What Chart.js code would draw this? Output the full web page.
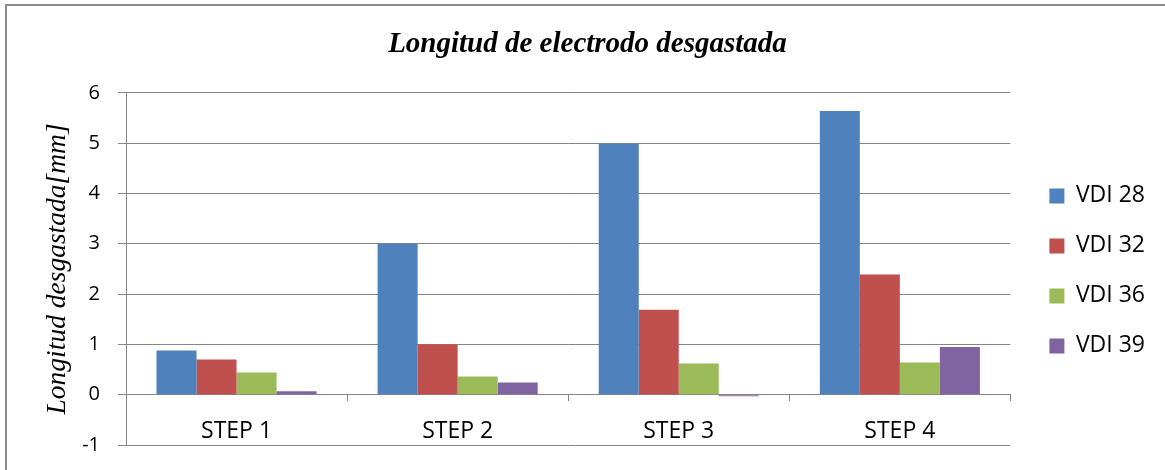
<!DOCTYPE html>
<html>
<head>
<meta charset="utf-8">
<script src="https://cdn.jsdelivr.net/npm/chart.js@4/dist/chart.umd.min.js"></script>
<style>
  html, body { margin: 0; padding: 0; background: #ffffff; overflow: hidden; }
  #wrap { position: relative; width: 1165px; height: 470px; }
  #wrap canvas { position: absolute; left: 0; top: 0; }
  #frame {
    position: absolute; left: 5px; top: 4px; width: 1300px; height: 600px;
    border-top: 2px solid #8c8c8c; border-left: 2px solid #8c8c8c;
    pointer-events: none;
  }
</style>
</head>
<body>
<div id="wrap">
  <canvas id="chart" width="1165" height="470"></canvas>
  <div id="frame"></div>
</div>
<script>
// Categories and series (worn electrode length, mm)
const steps = ['STEP 1', 'STEP 2', 'STEP 3', 'STEP 4'];
const seriesNames = ['VDI 28', 'VDI 32', 'VDI 36', 'VDI 39'];
const vdi28 = [0.88, 3.00, 4.99, 5.64];
const vdi32 = [0.70, 1.00, 1.69, 2.39];
const vdi36 = [0.44, 0.36, 0.62, 0.64];
const vdi39 = [0.07, 0.24, -0.03, 0.95];
const yTicks = [-1, 0, 1, 2, 3, 4, 5, 6];

const seriesValues = [vdi28, vdi32, vdi36, vdi39];
const seriesColors = ['#4F81BD', '#C0504D', '#9BBB59', '#8064A2'];
const gridGray = '#868686';

// Moves the legend block a little right/down of where the layout puts it
const legendNudge = {
  id: 'legendNudge',
  afterLayout(chart) {
    const lg = chart.legend;
    if (!lg) return;
    lg.left += 12; lg.right += 12;
    lg.top += 2; lg.bottom += 2;
  }
};

new Chart(document.getElementById('chart'), {
  type: 'bar',
  data: {
    labels: steps,
    datasets: seriesNames.map((name, i) => ({
      label: name,
      data: seriesValues[i],
      backgroundColor: seriesColors[i],
      borderWidth: 0,
      categoryPercentage: 0.724,
      barPercentage: 1.0
    }))
  },
  options: {
    responsive: false,
    animation: false,
    devicePixelRatio: 1,
    layout: { padding: { left: 32, right: 22, top: 0, bottom: 25 } },
    plugins: {
      title: {
        display: true,
        text: 'Longitud de electrodo desgastada',
        color: '#000000',
        font: { family: '"Liberation Serif", "Times New Roman", serif', size: 29, style: 'italic', weight: 'bold' },
        padding: { top: 27, bottom: 31 }
      },
      legend: {
        display: true,
        position: 'right',
        align: 'center',
        fullSize: false,
        labels: {
          color: '#000000',
          font: { family: '"Open Sans", sans-serif', size: 23 },
          boxWidth: 15,
          boxHeight: 15,
          padding: 27
        }
      },
      tooltip: { enabled: false }
    },
    scales: {
      x: {
        type: 'category',
        position: { y: 0 },
        grid: {
          display: true,
          offset: true,
          drawOnChartArea: false,
          drawTicks: true,
          tickLength: 6,
          color: gridGray,
          lineWidth: 1
        },
        border: { display: true, color: gridGray, width: 1 },
        ticks: {
          color: '#000000',
          font: { family: '"Open Sans", sans-serif', size: 23 },
          padding: 17,
          maxRotation: 0
        }
      },
      y: {
        type: 'linear',
        min: yTicks[0],
        max: yTicks[yTicks.length - 1],
        afterFit(scale) {
          scale.width = 94;
          scale.paddingTop = 0;
          scale.paddingBottom = 0;
        },
        afterBuildTicks(scale) { scale.ticks = yTicks.map(v => ({ value: v })); },
        grid: {
          display: true,
          drawOnChartArea: true,
          drawTicks: true,
          tickLength: 8,
          color: gridGray,
          lineWidth: 1
        },
        border: { display: true, color: gridGray, width: 1 },
        ticks: {
          color: '#000000',
          font: { family: '"Open Sans", sans-serif', size: 20 },
          padding: 18
        },
        title: {
          display: true,
          text: 'Longitud desgastada[mm]',
          color: '#000000',
          font: { family: '"Liberation Serif", "Times New Roman", serif', size: 27.5, style: 'italic' },
          padding: { top: 9, bottom: 0 }
        }
      }
    }
  },
  plugins: [legendNudge]
});
</script>
</body>
</html>
